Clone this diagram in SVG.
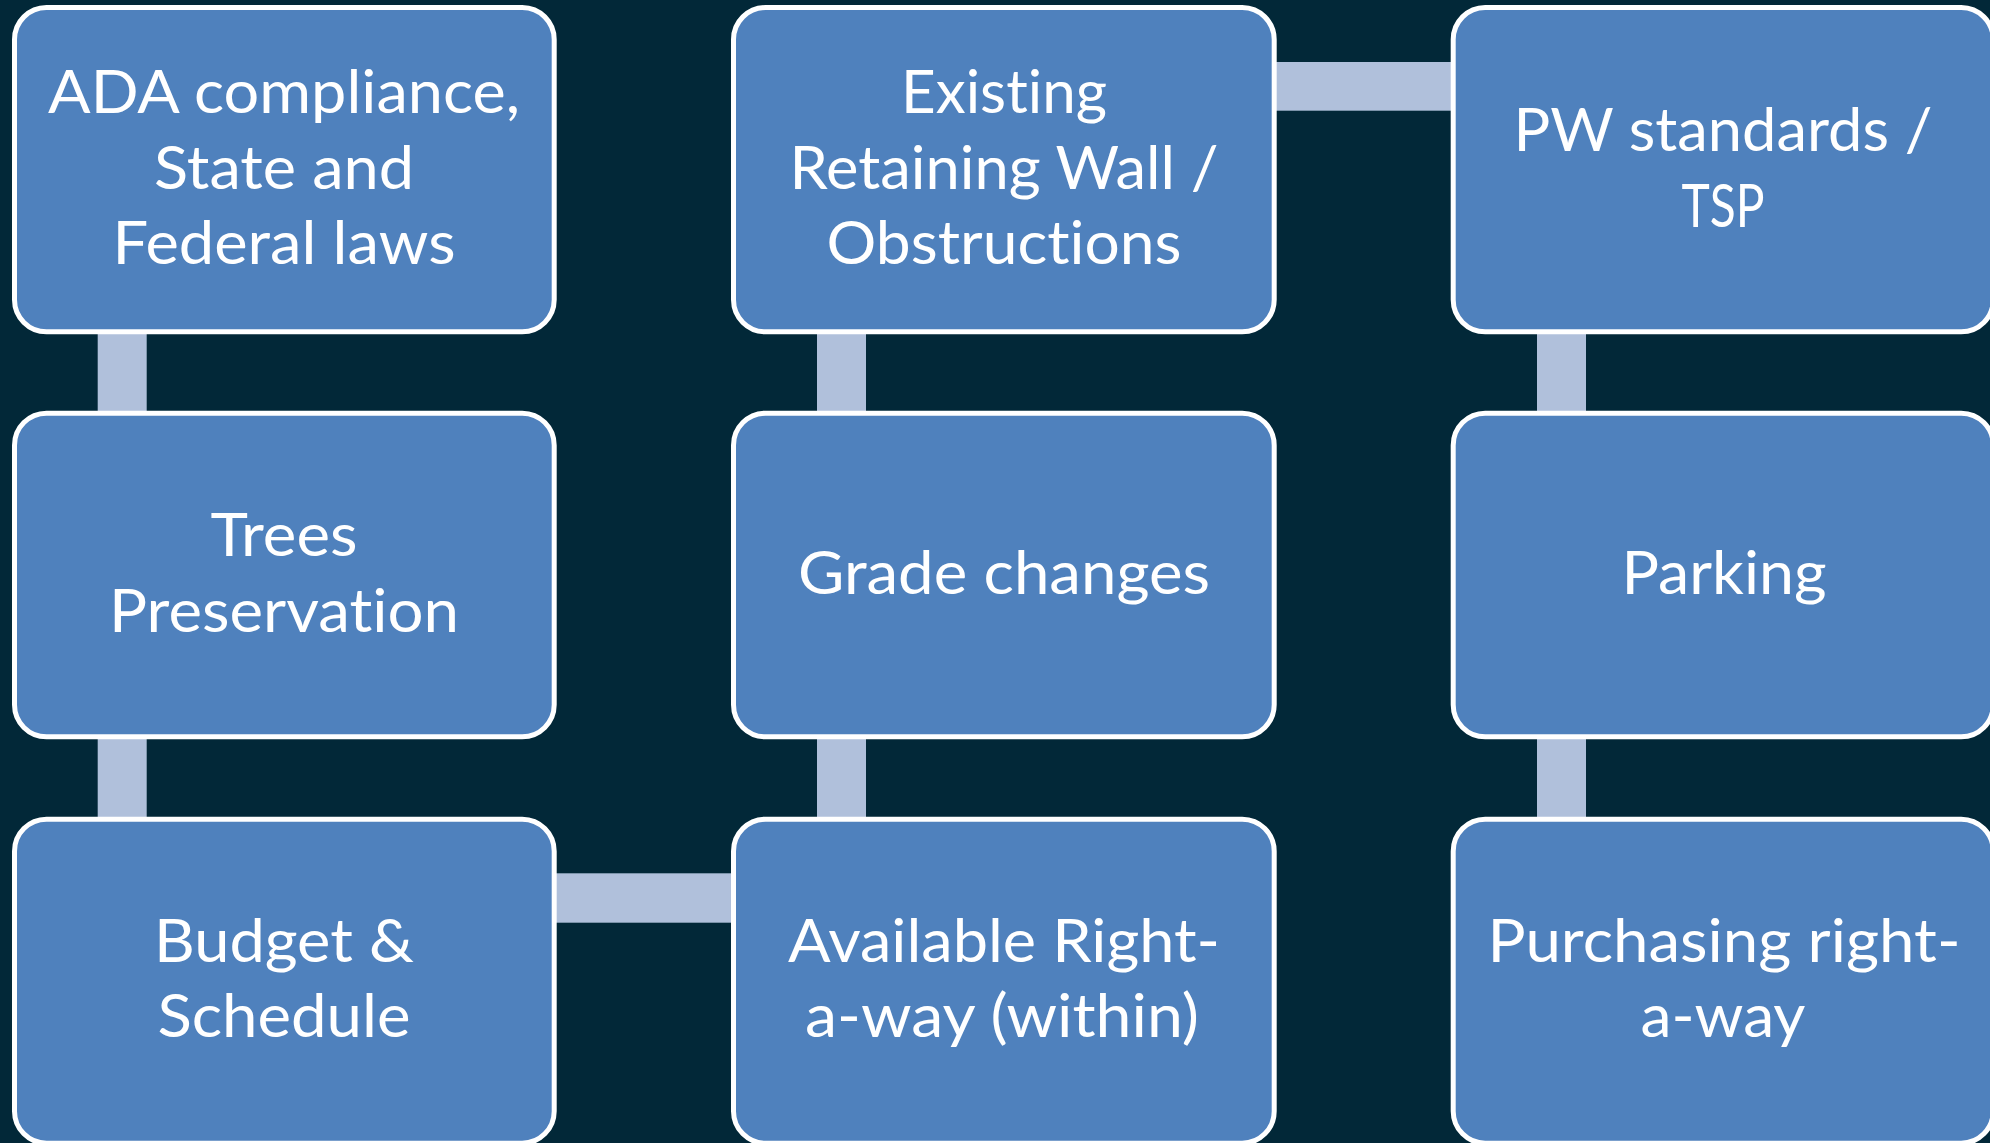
<svg xmlns="http://www.w3.org/2000/svg" width="1990" height="1143" viewBox="0 0 1990 1143">
<style>
.bg{fill:#022838}
.box{fill:#4F81BD;stroke:#FFFFFF;stroke-width:5}
.conn{fill:#B0C0DB}
.t{font-family:Lato,"Open Sans","Liberation Sans",sans-serif;font-size:60px;fill:#FFFFFF;text-anchor:middle;font-variant-ligatures:none;font-feature-settings:"liga" 0,"clig" 0,"dlig" 0}
</style>
<rect class="bg" x="0" y="0" width="1990" height="1143"/>
<g id="connectors">
<rect class="conn" x="97.7" y="320" width="49" height="105"/>
<rect class="conn" x="97.7" y="725" width="49" height="105"/>
<rect class="conn" x="817" y="320" width="49" height="105"/>
<rect class="conn" x="817" y="725" width="49" height="105"/>
<rect class="conn" x="1537" y="320" width="49" height="105"/>
<rect class="conn" x="1537" y="725" width="49" height="105"/>
<rect class="conn" x="1260" y="62" width="205" height="48.7"/>
<rect class="conn" x="540" y="873.3" width="205" height="49.4"/>
</g>
<g id="n-ada">
<rect class="box" x="14.5" y="7.5" width="539.7" height="324.3" rx="32"/>
<text class="t" x="284" y="113.3" textLength="472" lengthAdjust="spacingAndGlyphs">ADA compliance,</text>
<text class="t" x="284" y="188.8" textLength="260" lengthAdjust="spacingAndGlyphs">State and</text>
<text class="t" x="284" y="264.3" textLength="343" lengthAdjust="spacingAndGlyphs">Federal laws</text>
</g>
<g id="n-trees">
<rect class="box" x="14.5" y="413.2" width="539.7" height="323.6" rx="32"/>
<text class="t" x="284" y="556" textLength="147" lengthAdjust="spacingAndGlyphs">Trees</text>
<text class="t" x="284" y="632" textLength="350" lengthAdjust="spacingAndGlyphs">Preservation</text>
</g>
<g id="n-budget">
<rect class="box" x="14.5" y="819.2" width="539.7" height="324" rx="32"/>
<text class="t" x="284" y="961.7" textLength="260" lengthAdjust="spacingAndGlyphs">Budget &amp;</text>
<text class="t" x="284" y="1037" textLength="253" lengthAdjust="spacingAndGlyphs">Schedule</text>
</g>
<g id="n-existing">
<rect class="box" x="733.5" y="7.5" width="540.7" height="324.3" rx="32"/>
<text class="t" x="1004" y="113.3" textLength="206" lengthAdjust="spacingAndGlyphs">Existing</text>
<text class="t" x="1004" y="188.8" textLength="429" lengthAdjust="spacingAndGlyphs">Retaining Wall /</text>
<text class="t" x="1004" y="264" textLength="355" lengthAdjust="spacingAndGlyphs">Obstructions</text>
</g>
<g id="n-grade">
<rect class="box" x="733.5" y="413.2" width="540.7" height="323.6" rx="32"/>
<text class="t" x="1004" y="594" textLength="412" lengthAdjust="spacingAndGlyphs">Grade changes</text>
</g>
<g id="n-available">
<rect class="box" x="733.5" y="819.2" width="540.7" height="324" rx="32"/>
<text class="t" x="1004" y="961.7" textLength="432" lengthAdjust="spacingAndGlyphs">Available Right-</text>
<text class="t" x="1002" y="1036.7" textLength="394" lengthAdjust="spacingAndGlyphs">a-way (within)</text>
</g>
<g id="n-pw">
<rect class="box" x="1453.2" y="7.5" width="540" height="324.3" rx="32"/>
<text class="t" x="1723" y="150.7" textLength="419" lengthAdjust="spacingAndGlyphs">PW standards /</text>
<text class="t" x="1723" y="226.7" textLength="83" lengthAdjust="spacingAndGlyphs">TSP</text>
</g>
<g id="n-parking">
<rect class="box" x="1453.2" y="413.2" width="540" height="323.6" rx="32"/>
<text class="t" x="1724" y="594" textLength="205" lengthAdjust="spacingAndGlyphs">Parking</text>
</g>
<g id="n-purchasing">
<rect class="box" x="1453.2" y="819.2" width="540" height="324" rx="32"/>
<text class="t" x="1724" y="961.7" textLength="473" lengthAdjust="spacingAndGlyphs">Purchasing right-</text>
<text class="t" x="1723" y="1036.7" textLength="165" lengthAdjust="spacingAndGlyphs">a-way</text>
</g>
</svg>
